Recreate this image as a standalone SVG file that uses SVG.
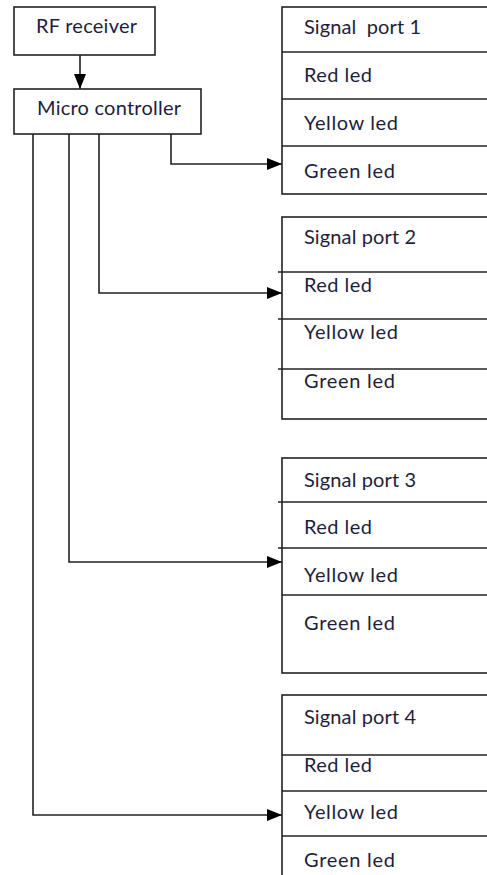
<svg xmlns="http://www.w3.org/2000/svg" width="487" height="875" viewBox="0 0 487 875">
<defs>
<style>
.box{fill:#fff;stroke:#222;stroke-width:1.6}
.sep{stroke:#222;stroke-width:1.6;fill:none}
.wire{stroke:#222;stroke-width:1.6;fill:none}
text{font-family:Lato,"Open Sans","Liberation Sans",sans-serif;font-size:20px;fill:#1e1e3c;white-space:pre}
</style>
<marker id="arr" markerUnits="userSpaceOnUse" markerWidth="15" markerHeight="12" refX="15" refY="6" orient="auto">
<path d="M0,0 L15,6 L0,12 z" fill="#000"/>
</marker>
</defs>
<rect width="487" height="875" fill="#fff"/>
<g id="connectors">
<line class="wire" x1="80" y1="55" x2="80" y2="89" marker-end="url(#arr)"/>
<polyline class="wire" points="171,134 171,164 282,164" marker-end="url(#arr)"/>
<polyline class="wire" points="99,130 99,293 282,293" marker-end="url(#arr)"/>
<polyline class="wire" points="69,134 69,562 282,562" marker-end="url(#arr)"/>
<polyline class="wire" points="33,134 33,815 282,815" marker-end="url(#arr)"/>
</g>
<g id="rf-receiver">
<rect class="box" x="14" y="7" width="141" height="48"/>
<text x="36" y="33" textLength="101">RF receiver</text>
</g>
<g id="micro-controller">
<rect class="box" x="14" y="89" width="187" height="45"/>
<text x="37" y="115" textLength="144">Micro controller</text>
</g>
<g id="signal-port-1">
<rect class="box" x="282" y="7" width="210" height="187"/>
<line class="sep" x1="282" y1="52" x2="490" y2="52"/>
<line class="sep" x1="282" y1="99" x2="490" y2="99"/>
<line class="sep" x1="282" y1="146" x2="490" y2="146"/>
<text x="304" y="34" textLength="117" xml:space="preserve">Signal  port 1</text>
<text x="304" y="82" textLength="68">Red led</text>
<text x="304" y="130" textLength="94">Yellow led</text>
<text x="304" y="178" textLength="91">Green led</text>
</g>
<g id="signal-port-2">
<rect class="box" x="282" y="217" width="210" height="202"/>
<line class="sep" x1="278" y1="272" x2="490" y2="272"/>
<line class="sep" x1="278" y1="319" x2="490" y2="319"/>
<line class="sep" x1="278" y1="369" x2="490" y2="369"/>
<text x="304" y="244" textLength="112">Signal port 2</text>
<text x="304" y="292" textLength="68">Red led</text>
<text x="304" y="339" textLength="94">Yellow led</text>
<text x="304" y="388" textLength="91">Green led</text>
</g>
<g id="signal-port-3">
<rect class="box" x="282" y="458" width="210" height="215"/>
<line class="sep" x1="278" y1="502" x2="490" y2="502"/>
<line class="sep" x1="278" y1="548" x2="490" y2="548"/>
<line class="sep" x1="282" y1="595" x2="490" y2="595"/>
<text x="304" y="487" textLength="112">Signal port 3</text>
<text x="304" y="534" textLength="68">Red led</text>
<text x="304" y="582" textLength="94">Yellow led</text>
<text x="304" y="630" textLength="91">Green led</text>
</g>
<g id="signal-port-4">
<rect class="box" x="282" y="695" width="210" height="200"/>
<line class="sep" x1="282" y1="755" x2="490" y2="755"/>
<line class="sep" x1="282" y1="791" x2="490" y2="791"/>
<line class="sep" x1="282" y1="836" x2="490" y2="836"/>
<text x="304" y="724" textLength="112">Signal port 4</text>
<text x="304" y="772" textLength="68">Red led</text>
<text x="304" y="819" textLength="94">Yellow led</text>
<text x="304" y="867" textLength="91">Green led</text>
</g>
</svg>
